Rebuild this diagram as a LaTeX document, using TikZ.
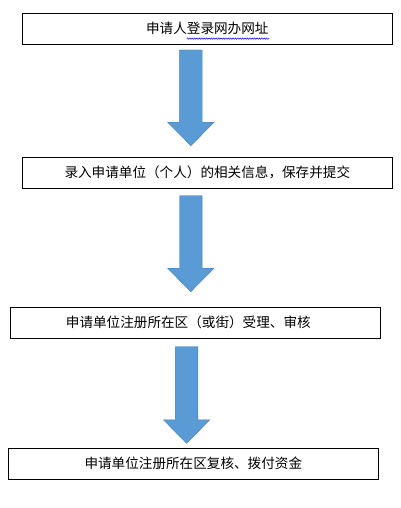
\documentclass[tikz,border=0pt]{standalone}
\usepackage{fontspec}
\newfontfamily\cjkfont{Noto Sans CJK SC}
\usetikzlibrary{calc, decorations.pathmorphing}

\definecolor{arrowblue}{RGB}{91,155,213}
\definecolor{arrowedge}{RGB}{72,125,180}
\tikzset{
	stepbox/.style={draw, line width=0.9pt, minimum height=31pt, inner sep=0pt,
		font=\cjkfont\fontsize{13.6}{16}\selectfont}
}

\begin{document}
\begin{tikzpicture}[x=1pt, y=-1pt]
	\useasboundingbox (0,0) rectangle (401,508);
	\node[stepbox, minimum width=370pt] (login) at (207.3,28.8) {申请人登录网办网址};
	\node[stepbox, minimum width=370pt] (input) at (207.3,172.7) {录入申请单位（个人）的相关信息，保存并提交};
	\node[stepbox, minimum width=369.7pt] (accept) at (195.2,322.7) {申请单位注册所在区（或街）受理、审核\hspace*{13.8pt}};
	\node[stepbox, minimum width=369.7pt] (pay) at (193.3,463.8) {申请单位注册所在区复核、拨付资金};
	% spell-check underline
	\coordinate (w1) at (186.7,38.6); \coordinate (w2) at (269.3,38.6);
	\draw[blue, line width=0.5pt, decorate, decoration={snake, amplitude=0.7pt, segment length=2.4pt}] (w1) -- (w2);
	% block arrows between the boxes
	\coordinate (a1) at (190.9,50); \coordinate (b1) at (190.9,145.7);
	\coordinate (a2) at (190.8,195.7); \coordinate (b2) at (190.8,291.7);
	\coordinate (a3) at (186.6,346.7); \coordinate (b3) at (186.6,443.3);
	\foreach \s/\e in {a1/b1, a2/b2, a3/b3}
		\filldraw[fill=arrowblue, draw=arrowedge, line width=0.4pt]
			($(\s)+(-11.3,0)$) -- ($(\s)+(11.3,0)$) -- ($(\e)+(11.3,-23.5)$)
			-- ($(\e)+(23.2,-23.5)$) -- (\e) -- ($(\e)+(-23.2,-23.5)$)
			-- ($(\e)+(-11.3,-23.5)$) -- cycle;
\end{tikzpicture}
\end{document}
